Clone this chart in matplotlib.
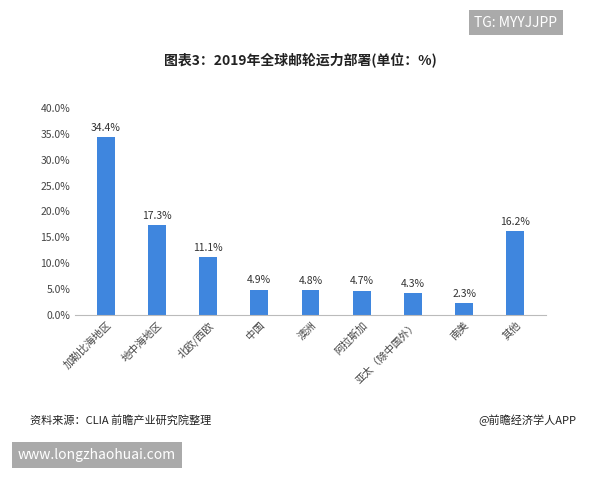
import numpy as np
import matplotlib.pyplot as plt

plt.rcParams['font.family'] = ['Noto Sans CJK SC', 'DejaVu Sans']

regions = ["加勒比海地区", "地中海地区", "北欧/西欧", "中国", "澳洲", "阿拉斯加",
           "亚太（除中国外）", "南美", "其他"]
shares = [34.4, 17.3, 11.1, 4.9, 4.8, 4.7, 4.3, 2.3, 16.2]
yticks = [0, 5, 10, 15, 20, 25, 30, 35, 40]

fig = plt.figure(figsize=(6, 4.8), dpi=100)
ax = fig.add_axes([0.125, 0.344, 0.785, 0.431])

x = np.arange(len(regions))
bars = ax.bar(x, shares, width=0.35, color="#3f86de")
for b, v in zip(bars, shares):
    ax.text(b.get_x() + b.get_width() / 2, v + 0.8, f"{v}%", ha="center",
            va="bottom", fontsize=7.5, color="#333333")

ax.set_ylim(0, 40)
ax.set_yticks(yticks)
ax.set_yticklabels([f"{t:.1f}%" for t in yticks], fontsize=7.5, color="#444444")
ax.set_xlim(-0.6, len(regions) - 0.4)
ax.set_xticks(x)
ax.set_xticklabels(regions, rotation=45, ha="right", rotation_mode="anchor",
                   fontsize=7.5, color="#444444")
ax.tick_params(length=0)
for s in ["top", "right", "left"]:
    ax.spines[s].set_visible(False)
ax.spines["bottom"].set_color("#bbbbbb")

fig.text(0.5, 0.875, "图表3：2019年全球邮轮运力部署(单位：%)", ha="center",
         va="center", fontsize=10, fontweight="bold", color="#222222")
fig.text(0.05, 0.125, "资料来源：CLIA 前瞻产业研究院整理", fontsize=8,
         va="center", color="#222222")
fig.text(0.96, 0.125, "@前瞻经济学人APP", fontsize=8, ha="right",
         va="center", color="#222222")
fig.text(0.86, 0.953, "TG: MYYJJPP", fontsize=10, ha="center", va="center",
         color="white",
         bbox=dict(boxstyle="square,pad=0.4", fc="#aaaaaa", ec="none"))
fig.text(0.03, 0.052, "www.longzhaohuai.com", fontsize=10, ha="left",
         va="center", color="white",
         bbox=dict(boxstyle="square,pad=0.4", fc="#aaaaaa", ec="none"))

fig.savefig("out.png", dpi=100)
